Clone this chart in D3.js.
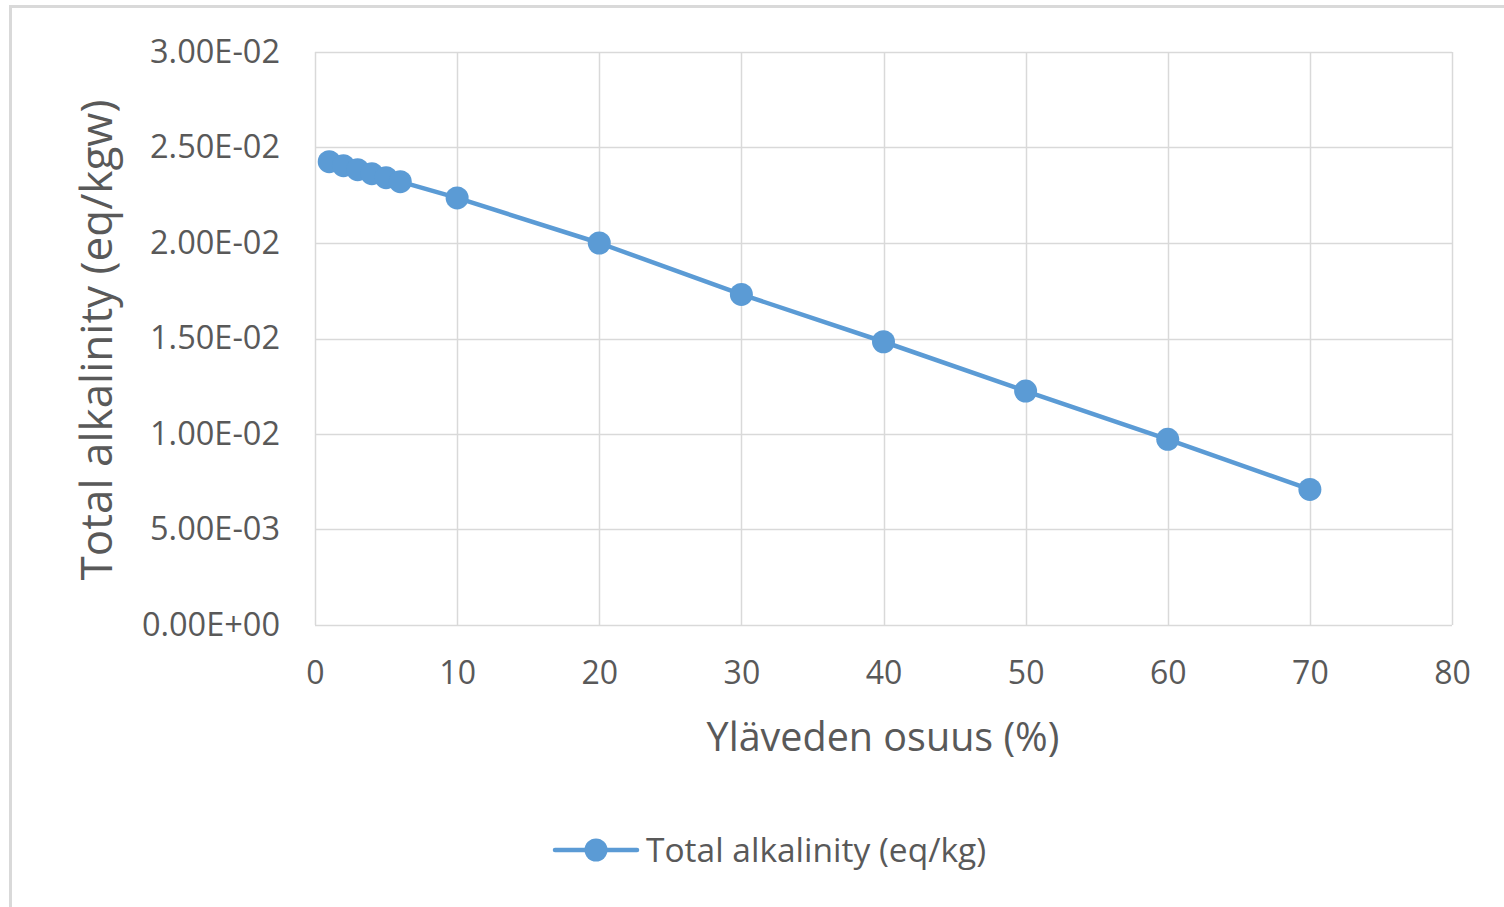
<!DOCTYPE html>
<html>
<head>
<meta charset="utf-8">
<script src="https://cdn.jsdelivr.net/npm/d3@7/dist/d3.min.js"></script>
<style>
  html, body { margin: 0; padding: 0; background: #fff; }
  svg { display: block; }
  text { font-family: "Open Sans", "Noto Sans", sans-serif; fill: #595959; }
</style>
</head>
<body>
<svg id="chart" width="1504" height="907"></svg>
<script>
// Share of upper water (%) and the resulting total alkalinity (eq/kgw)
const shares = [1, 2, 3, 4, 5, 6, 10, 20, 30, 40, 50, 60, 70];
const alkalinity = [0.02426, 0.02405, 0.02384, 0.02363, 0.02342, 0.02321,
                    0.02236, 0.02000, 0.01731, 0.01483, 0.01225, 0.00972, 0.00710];
const xTicks = [0, 10, 20, 30, 40, 50, 60, 70, 80];
const yTicks = [0, 0.005, 0.01, 0.015, 0.02, 0.025, 0.03];
const yTickLabels = ["0.00E+00", "5.00E-03", "1.00E-02", "1.50E-02", "2.00E-02", "2.50E-02", "3.00E-02"];
const seriesName = "Total alkalinity (eq/kg)";

const svg = d3.select("#chart");
const plot = { left: 315, right: 1452, top: 52, bottom: 625 };
const blue = "#5b9bd5";
const grid = "#d9d9d9";

// Chart frame
svg.append("rect")
  .attr("x", 10.5).attr("y", 6.5)
  .attr("width", 1504).attr("height", 907)
  .attr("fill", "#fff").attr("stroke", "#d9d9d9").attr("stroke-width", 3);

const x = d3.scaleLinear().domain([0, 80]).range([plot.left, plot.right]);
const y = d3.scaleLinear().domain([0, 0.03]).range([plot.bottom, plot.top]);

// Gridlines
const g = svg.append("g");
g.selectAll("line.v").data(xTicks).join("line")
  .attr("x1", d => Math.round(x(d)) + 0.5).attr("x2", d => Math.round(x(d)) + 0.5)
  .attr("y1", plot.top).attr("y2", plot.bottom)
  .attr("stroke", grid).attr("stroke-width", 1.5);
g.selectAll("line.h").data(yTicks).join("line")
  .attr("y1", d => Math.round(y(d)) + 0.5).attr("y2", d => Math.round(y(d)) + 0.5)
  .attr("x1", plot.left).attr("x2", plot.right)
  .attr("stroke", grid).attr("stroke-width", 1.5);

// Axes (labels only, no tick marks)
const xAxis = d3.axisBottom(x).tickValues(xTicks).tickSize(0).tickPadding(36).tickFormat(d3.format("d"));
svg.append("g").attr("transform", `translate(0,${plot.bottom})`).call(xAxis)
  .call(a => a.select(".domain").remove())
  .selectAll("text").style("font-size", "32px").attr("fill", "#595959");

const yAxis = d3.axisLeft(y).tickValues(yTicks).tickSize(0).tickPadding(35)
  .tickFormat((d, i) => yTickLabels[i]);
svg.append("g").attr("transform", `translate(${plot.left},0)`).call(yAxis)
  .call(a => a.select(".domain").remove())
  .selectAll("text").style("font-size", "32.5px").attr("fill", "#595959");

// Axis titles
svg.append("text")
  .attr("x", 883).attr("y", 751)
  .attr("text-anchor", "middle")
  .style("font-size", "39.5px")
  .text("Yläveden osuus (%)");
svg.append("text")
  .attr("transform", "translate(112,340) rotate(-90)")
  .attr("text-anchor", "middle")
  .style("font-size", "44px")
  .text("Total alkalinity (eq/kgw)");

// Series line and markers
const data = shares.map((s, i) => ({ s, v: alkalinity[i] }));
svg.append("path").datum(data)
  .attr("fill", "none").attr("stroke", blue).attr("stroke-width", 4.5)
  .attr("stroke-linejoin", "round")
  .attr("d", d3.line().x(d => x(d.s)).y(d => y(d.v)));
svg.selectAll("circle.pt").data(data).join("circle")
  .attr("cx", d => x(d.s)).attr("cy", d => y(d.v)).attr("r", 11.5)
  .attr("fill", blue);

// Legend
const lg = svg.append("g").attr("transform", "translate(555,850)");
lg.append("line").attr("x1", 0).attr("x2", 82).attr("y1", 0).attr("y2", 0)
  .attr("stroke", blue).attr("stroke-width", 4.5).attr("stroke-linecap", "round");
lg.append("circle").attr("cx", 41).attr("cy", 0).attr("r", 11.5).attr("fill", blue);
lg.append("text").attr("x", 91).attr("y", 12).style("font-size", "33.5px").text(seriesName);
</script>
</body>
</html>
